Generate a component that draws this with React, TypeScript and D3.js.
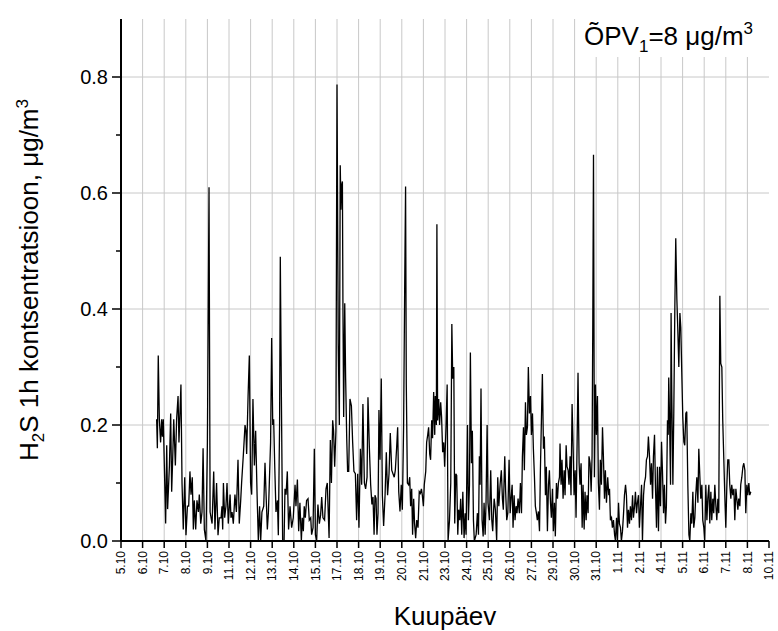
import React from 'react';
import * as d3 from 'd3';

// ---- data: time in days since 5.10 00:00, H2S 1h concentration (µg/m3) ----
const period1: [number, number][] = [
  [1.98,0.21],[2.02,0.16],[2.07,0.32],[2.13,0.21],[2.20,0.17],[2.26,0.21],[2.30,0.18],[2.35,0.21],[2.48,0.03],[2.54,0.165],[2.59,0.055],[2.69,0.13],[2.76,0.22],[2.815,0.085],[2.87,0.14],[2.93,0.21],[3.02,0.13],[3.09,0.21],[3.17,0.25],[3.22,0.17],[3.33,0.27],[3.39,0.10],[3.46,0.02],[3.54,0.11],[3.61,0.01],[3.69,0.06],[3.76,0.06],[3.83,0.12],[3.89,0.08],[3.96,0.11],[4.02,0.02],[4.07,0.07],[4.15,0.02],[4.22,0.07],[4.30,0.05],[4.35,0.08],[4.43,0.03],[4.50,0.05],[4.56,0.16],[4.63,0.02],[4.72,0.00],[4.80,0.17],[4.89,0.61],[4.95,0.05],[5.06,0.03],[5.15,0.12],[5.22,0.02],[5.31,0.10],[5.39,0.01],[5.46,0.04],[5.56,0.04],[5.61,0.06],[5.65,0.02],[5.69,0.10],[5.76,0.04],[5.83,0.06],[5.89,0.10],[5.96,0.03],[6.06,0.08],[6.11,0.04],[6.17,0.05],[6.24,0.03],[6.33,0.08],[6.41,0.05],[6.50,0.14],[6.57,0.03],[6.65,0.07],[6.70,0.10],[6.80,0.15],[6.89,0.20],[6.94,0.19],[6.98,0.15],[7.06,0.25],[7.13,0.32],[7.20,0.10],[7.26,0.08],[7.33,0.245],[7.41,0.13],[7.48,0.19],[7.56,0.08],[7.63,0.00],[7.70,0.06],[7.76,0.00],[7.83,0.05],[7.93,0.06],[8.00,0.135],[8.06,0.08],[8.13,0.02],[8.19,0.05],[8.24,0.10],[8.31,0.17],[8.37,0.35],[8.43,0.20],[8.48,0.21],[8.54,0.13],[8.61,0.05],[8.69,0.07],[8.74,0.01],[8.81,0.20],[8.85,0.49],[8.91,0.25],[8.98,0.00],[9.06,0.00],[9.11,0.09],[9.17,0.08],[9.24,0.12],[9.31,0.02],
];

const period2: [number, number][] = [
  [9.39,0.06],[9.48,0.023],[9.57,0.04],[9.67,0.097],[9.72,0.06],[9.80,0.106],[9.87,0.017],[9.94,0.066],[10.02,0.0],[10.07,0.04],[10.13,0.017],[10.18,0.06],[10.24,0.04],[10.31,0.07],[10.39,0.073],[10.46,0.036],[10.54,0.04],[10.59,0.011],[10.67,0.023],[10.74,0.159],[10.80,0.011],[10.87,0.0],[10.94,0.063],[11.02,0.03],[11.09,0.045],[11.15,0.076],[11.22,0.04],[11.31,0.036],[11.39,0.09],[11.46,0.1],[11.56,0.005],[11.63,0.174],[11.69,0.1],[11.76,0.208],[11.81,0.19],[11.87,0.128],[11.94,0.19],[12.00,0.787],[12.07,0.34],[12.13,0.2],[12.18,0.648],[12.22,0.571],[12.26,0.614],[12.30,0.62],[12.33,0.405],[12.37,0.214],[12.43,0.41],[12.48,0.28],[12.54,0.177],[12.59,0.12],[12.65,0.12],[12.72,0.245],[12.80,0.233],[12.87,0.17],[12.94,0.12],[13.02,0.116],[13.09,0.036],[13.15,0.116],[13.22,0.023],[13.30,0.159],[13.37,0.097],[13.44,0.236],[13.52,0.1],[13.59,0.09],[13.67,0.11],[13.72,0.248],[13.80,0.159],[13.87,0.097],[13.94,0.063],[14.00,0.076],[14.06,0.011],[14.11,0.079],[14.17,0.073],[14.22,0.011],[14.28,0.048],[14.33,0.226],[14.39,0.14],[14.46,0.28],[14.52,0.079],[14.59,0.026],[14.67,0.079],[14.74,0.153],[14.81,0.079],[14.89,0.116],[14.96,0.186],[15.04,0.122],[15.11,0.116],[15.18,0.11],[15.24,0.122],[15.31,0.159],[15.37,0.196],[15.43,0.085],[15.50,0.051],[15.57,0.097],[15.63,0.054],[15.70,0.196],[15.76,0.436],[15.81,0.611],[15.85,0.27],[15.91,0.1],[15.98,0.097],[16.04,0.11],[16.09,0.06],[16.15,0.09],[16.20,0.011],[16.26,0.073],[16.31,0.03],[16.37,0.005],[16.43,0.036],[16.50,0.023],[16.57,0.085],[16.63,0.082],[16.69,0.09],[16.74,0.079],[16.80,0.06],[16.85,0.097],[16.93,0.12],[16.98,0.17],[17.04,0.183],[17.09,0.196],[17.15,0.15],[17.20,0.14],[17.26,0.208],[17.31,0.177],[17.37,0.257],[17.43,0.183],[17.46,0.25],[17.52,0.2],[17.55,0.546],[17.59,0.208],[17.65,0.245],[17.70,0.2],[17.76,0.239],[17.81,0.214],[17.87,0.153],[17.93,0.17],[17.98,0.128],
];

const period3: [number, number][] = [
  [18.06,0.2],[18.12,0.27],[18.17,0.0],[18.25,0.036],[18.32,0.1],[18.38,0.374],[18.43,0.28],[18.49,0.3],[18.54,0.03],[18.60,0.116],[18.65,0.113],[18.71,0.011],[18.76,0.054],[18.82,0.036],[18.87,0.073],[18.93,0.011],[18.99,0.085],[19.06,0.005],[19.12,0.048],[19.17,0.011],[19.25,0.2],[19.30,0.036],[19.36,0.097],[19.41,0.325],[19.47,0.134],[19.52,0.19],[19.58,0.036],[19.63,0.0],[19.73,0.011],[19.80,0.048],[19.86,0.011],[19.91,0.146],[19.95,0.097],[20.00,0.263],[20.06,0.036],[20.12,0.008],[20.17,0.066],[20.23,0.011],[20.28,0.066],[20.34,0.2],[20.39,0.066],[20.47,0.036],[20.54,0.122],[20.60,0.036],[20.65,0.017],[20.73,0.073],[20.80,0.054],[20.87,0.0],[20.93,0.11],[20.99,0.06],[21.06,0.097],[21.13,0.122],[21.19,0.073],[21.24,0.054],[21.32,0.146],[21.37,0.085],[21.43,0.036],[21.49,0.048],[21.56,0.14],[21.62,0.048],[21.67,0.073],[21.73,0.097],[21.78,0.023],[21.84,0.079],[21.89,0.036],[21.95,0.06],[22.00,0.048],[22.06,0.073],[22.13,0.048],[22.19,0.1],[22.25,0.048],[22.30,0.146],[22.36,0.196],[22.41,0.122],[22.47,0.239],[22.52,0.183],[22.58,0.196],[22.63,0.3],[22.69,0.22],[22.75,0.25],[22.80,0.183],[22.86,0.22],[22.91,0.159],[22.97,0.11],[23.02,0.06],[23.08,0.048],[23.13,0.036],[23.19,0.051],[23.25,0.017],[23.30,0.122],[23.36,0.214],[23.41,0.288],[23.47,0.159],[23.52,0.18],[23.58,0.079],[23.63,0.128],[23.69,0.017],[23.75,0.097],[23.80,0.122],[23.86,0.066],[23.91,0.04],[23.97,0.09],[24.02,0.017],[24.08,0.066],[24.13,0.008],[24.19,0.1],[24.25,0.073],[24.30,0.1],[24.36,0.11],[24.39,0.168],[24.45,0.097],[24.50,0.14],[24.56,0.073],[24.62,0.122],[24.67,0.079],[24.73,0.165],[24.78,0.128],[24.84,0.122],[24.89,0.097],[24.95,0.146],[25.00,0.079],[25.06,0.236],[25.12,0.159],[25.17,0.079],[25.23,0.122],[25.28,0.04],[25.34,0.171],[25.39,0.29],[25.45,0.134],[25.50,0.097],[25.56,0.134],[25.62,0.023],[25.67,0.097],[25.73,0.02],[25.78,0.085],[25.84,0.036],[25.89,0.079],[25.95,0.048],[26.00,0.146],[26.06,0.134],[26.12,0.085],[26.17,0.146],[26.21,0.374],[26.25,0.666],[26.30,0.11],[26.36,0.27],[26.41,0.183],[26.47,0.25],[26.52,0.1],[26.58,0.054],[26.63,0.14],[26.69,0.097],[26.75,0.196],[26.80,0.146],[26.86,0.073],[26.91,0.122],[26.97,0.066],[27.04,0.11],[27.10,0.079],
];

const period4: [number, number][] = [
  [27.14,0.09],[27.19,0.036],[27.25,0.04],[27.30,0.023],[27.36,0.036],[27.42,0.011],[27.47,0.0],[27.53,0.04],[27.58,0.0],[27.64,0.066],[27.69,0.03],[27.75,0.023],[27.80,0.0],[27.86,0.017],[27.92,0.048],[27.97,0.079],[28.03,0.097],[28.08,0.079],[28.14,0.023],[28.19,0.054],[28.25,0.03],[28.30,0.06],[28.36,0.036],[28.42,0.079],[28.47,0.04],[28.53,0.06],[28.58,0.085],[28.64,0.048],[28.69,0.066],[28.75,0.079],[28.80,0.023],[28.86,0.06],[28.92,0.097],[28.97,0.0],[29.03,0.079],[29.08,0.1],[29.14,0.11],[29.19,0.14],[29.25,0.146],[29.30,0.18],[29.36,0.146],[29.42,0.097],[29.47,0.134],[29.53,0.073],[29.58,0.146],[29.64,0.183],[29.69,0.097],[29.75,0.023],[29.80,0.128],[29.86,0.017],[29.92,0.128],[29.97,0.06],[30.03,0.171],[30.08,0.122],[30.14,0.048],[30.19,0.097],[30.25,0.03],[30.30,0.06],[30.36,0.208],[30.40,0.183],[30.43,0.282],[30.47,0.22],[30.53,0.097],[30.56,0.393],[30.60,0.251],[30.66,0.097],[30.71,0.22],[30.77,0.405],[30.82,0.522],[30.88,0.418],[30.93,0.368],[30.99,0.3],[31.05,0.393],[31.10,0.368],[31.16,0.282],[31.21,0.214],[31.27,0.171],[31.32,0.165],[31.38,0.22],[31.43,0.223],[31.49,0.097],[31.55,0.011],[31.60,0.0],[31.66,0.048],[31.71,0.03],[31.77,0.085],[31.82,0.023],[31.88,0.04],[31.93,0.079],[31.99,0.11],[32.05,0.066],[32.10,0.159],[32.16,0.11],[32.21,0.073],[32.27,0.097],[32.32,0.036],[32.38,0.023],[32.43,0.0],[32.49,0.097],[32.55,0.036],[32.60,0.073],[32.66,0.097],[32.71,0.03],[32.77,0.085],[32.82,0.036],[32.88,0.073],[32.93,0.048],[32.99,0.097],[33.05,0.06],[33.10,0.036],[33.16,0.073],[33.21,0.048],[33.27,0.423],[33.32,0.306],[33.38,0.3],[33.43,0.208],[33.49,0.14],[33.55,0.073],[33.60,0.023],[33.66,0.097],[33.71,0.14],[33.77,0.14],[33.82,0.097],[33.88,0.073],[33.93,0.097],[33.99,0.079],[34.05,0.09],[34.10,0.036],[34.16,0.09],[34.21,0.073],[34.27,0.054],[34.32,0.073],[34.38,0.06],[34.43,0.097],[34.49,0.11],[34.55,0.128],[34.60,0.134],[34.66,0.122],[34.71,0.048],[34.77,0.097],[34.82,0.079],[34.88,0.1],[34.93,0.079],[34.99,0.085],
];

const xTickLabels = ['5.10','6.10','7.10','8.10','9.10','11.10','12.10','13.10','14.10','15.10','17.10','18.10','19.10','20.10','21.10','23.10','24.10','25.10','26.10','27.10','29.10','30.10','31.10','1.11','2.11','4.11','5.11','6.11','7.11','8.11','10.11'];
const xTickStep = 1.2; // days between labelled ticks
const yMajorTicks = [0, 0.2, 0.4, 0.6, 0.8];
const yMinorTicks = [0.1, 0.3, 0.5, 0.7];

const FONT = "'Liberation Sans', Arial, Helvetica, sans-serif";

export default function App() {
  const W = 778, H = 631;
  const left = 121, right = 769, top = 19, bottom = 541;
  const x = d3.scaleLinear().domain([0, 36]).range([left, right]);
  const y = d3.scaleLinear().domain([0, 0.9]).range([bottom, top]);
  const data = [...period1, ...period2, ...period3, ...period4];
  const line = d3.line<[number, number]>().x(d => x(d[0])).y(d => y(d[1]));
  const tickDays = xTickLabels.map((_, i) => i * xTickStep);
  const grid = '#c8c8c8';

  return (
    <svg width={W} height={H} style={{ position: 'absolute', left: 0, top: 0, background: '#fff' }} fontFamily={FONT}>
      <rect x={0} y={0} width={W} height={H} fill="#fff" />
      {/* grid */}
      {tickDays.slice(1, -1).map((d, i) => (
        <line key={'vg' + i} x1={x(d)} x2={x(d)} y1={top} y2={bottom} stroke={grid} strokeWidth={1} />
      ))}
      {yMajorTicks.slice(1).map((v, i) => (
        <line key={'hg' + i} x1={left} x2={right} y1={y(v)} y2={y(v)} stroke={grid} strokeWidth={1} />
      ))}
      {/* legend box */}
      <rect x={579} y={top} width={right - 579} height={38} fill="#fff" />
      <text x={584} y={45} fontSize={26} fill="#000">
        <tspan>ÕPV</tspan>
        <tspan dy={7} fontSize={17}>1</tspan>
        <tspan dy={-7}>=8 μg/m</tspan>
        <tspan dy={-11} fontSize={17}>3</tspan>
      </text>
      {/* data */}
      <path d={line(data) || ''} fill="none" stroke="#000" strokeWidth={1.3} />
      {/* axes */}
      <line x1={left} x2={left} y1={top} y2={bottom} stroke="#000" strokeWidth={2} />
      <line x1={left} x2={right} y1={bottom} y2={bottom} stroke="#000" strokeWidth={2} />
      {yMajorTicks.map((v, i) => (
        <g key={'ym' + i}>
          <line x1={left - 9} x2={left} y1={y(v)} y2={y(v)} stroke="#000" strokeWidth={1.5} />
          <text x={left - 13} y={y(v)} dy="0.36em" textAnchor="end" fontSize={20}>{v.toFixed(1)}</text>
        </g>
      ))}
      {yMinorTicks.map((v, i) => (
        <line key={'yn' + i} x1={left - 5} x2={left} y1={y(v)} y2={y(v)} stroke="#000" strokeWidth={1.5} />
      ))}
      {tickDays.map((d, i) => (
        <g key={'xt' + i}>
          <line x1={x(d)} x2={x(d)} y1={bottom} y2={bottom + 7} stroke="#000" strokeWidth={1.5} />
          <text transform={`translate(${x(d)},${bottom + 10}) rotate(-90)`} dy="0.35em" textAnchor="end" fontSize={12}>{xTickLabels[i]}</text>
        </g>
      ))}
      {/* titles */}
      <text x={(left + right) / 2} y={625} textAnchor="middle" fontSize={26}>Kuupäev</text>
      <text transform={`translate(38,${(top + bottom) / 2}) rotate(-90)`} textAnchor="middle" fontSize={26}>
        <tspan>H</tspan>
        <tspan dy={6} fontSize={17}>2</tspan>
        <tspan dy={-6}>S 1h kontsentratsioon, μg/m</tspan>
        <tspan dy={-10} fontSize={17}>3</tspan>
      </text>
    </svg>
  );
}
